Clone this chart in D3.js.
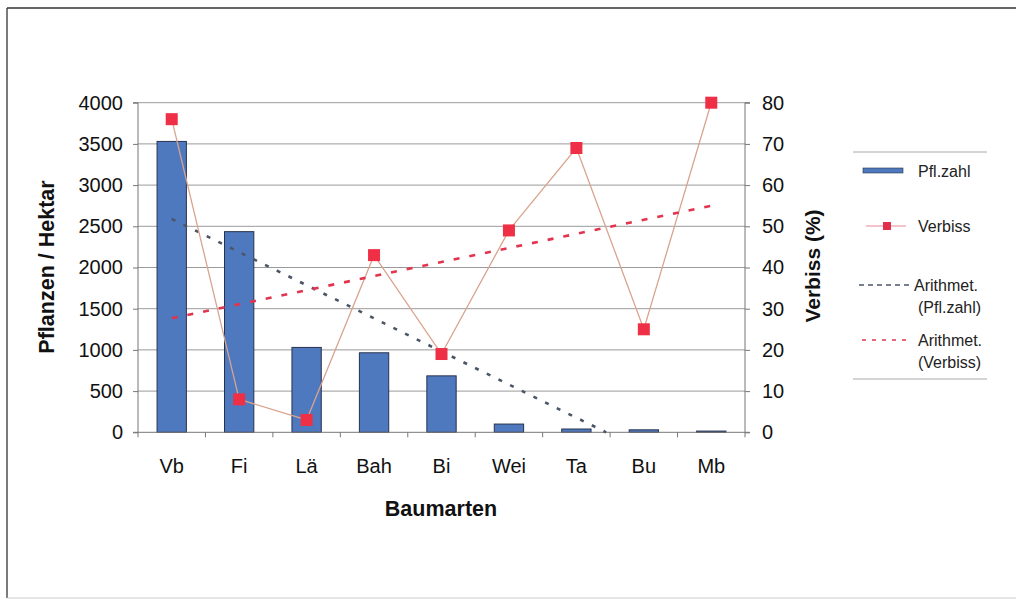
<!DOCTYPE html>
<html>
<head>
<meta charset="utf-8">
<script src="https://cdn.jsdelivr.net/npm/d3@7/dist/d3.min.js"></script>
<style>
  html, body { margin: 0; padding: 0; background: #fff; }
  svg { display: block; font-family: "Liberation Sans", Arial, sans-serif; }
</style>
</head>
<body>
<svg id="chart" width="1023" height="602"></svg>
<script>
// Tree species and their values
const categories = ["Vb", "Fi", "Lä", "Bah", "Bi", "Wei", "Ta", "Bu", "Mb"];
const plantsPerHa = [3530, 2435, 1030, 965, 685, 100, 40, 30, 15];
const browsingPct = [76, 8, 3, 43, 19, 49, 69, 25, 80];
const leftTicks = [0, 500, 1000, 1500, 2000, 2500, 3000, 3500, 4000];
const rightTicks = [0, 10, 20, 30, 40, 50, 60, 70, 80];

const svg = d3.select("#chart");
const plot = { left: 138, right: 745, top: 102.7, bottom: 432.3 };

// Outer frame
svg.append("line").attr("x1", 7).attr("x2", 1016).attr("y1", 8).attr("y2", 8)
  .attr("stroke", "#333").attr("stroke-width", 1.3);
svg.append("line").attr("x1", 7).attr("x2", 7).attr("y1", 8).attr("y2", 598)
  .attr("stroke", "#333").attr("stroke-width", 1.3);
svg.append("line").attr("x1", 7).attr("x2", 1016).attr("y1", 598).attr("y2", 598)
  .attr("stroke", "#ccc").attr("stroke-width", 1);

const x = d3.scaleBand().domain(categories).range([plot.left, plot.right]).paddingInner(0).paddingOuter(0);
const yL = d3.scaleLinear().domain([0, 4000]).range([plot.bottom, plot.top]);
const yR = d3.scaleLinear().domain([0, 80]).range([plot.bottom, plot.top]);
const cx = c => x(c) + x.bandwidth() / 2;

// Gridlines
svg.append("g").selectAll("line").data(leftTicks.slice(1)).join("line")
  .attr("x1", plot.left).attr("x2", plot.right)
  .attr("y1", d => yL(d)).attr("y2", d => yL(d))
  .attr("stroke", "#9a9a9a").attr("stroke-width", 1);

// Bars
const barW = x.bandwidth() / 2.3;
svg.append("g").selectAll("rect").data(categories).join("rect")
  .attr("x", (c) => cx(c) - barW / 2)
  .attr("width", barW)
  .attr("y", (c, i) => yL(plantsPerHa[i]))
  .attr("height", (c, i) => yL(0) - yL(plantsPerHa[i]))
  .attr("fill", "#4f79bf").attr("stroke", "#27324f").attr("stroke-width", 1);

// Axes
const fmt = d3.format("d");
const axL = d3.axisLeft(yL).tickValues(leftTicks).tickFormat(fmt).tickSize(5).tickPadding(10);
const gL = svg.append("g").attr("transform", `translate(${plot.left},0)`).call(axL);
const axR = d3.axisRight(yR).tickValues(rightTicks).tickFormat(fmt).tickSize(5).tickPadding(12);
const gR = svg.append("g").attr("transform", `translate(${plot.right},0)`).call(axR);
const axB = d3.axisBottom(x).tickSize(0).tickPadding(27);
const gB = svg.append("g").attr("transform", `translate(0,${plot.bottom})`).call(axB);
// category separator ticks
svg.append("g").selectAll("line").data(d3.range(categories.length + 1)).join("line")
  .attr("x1", i => plot.left + i * x.bandwidth()).attr("x2", i => plot.left + i * x.bandwidth())
  .attr("y1", plot.bottom).attr("y2", plot.bottom + 5)
  .attr("stroke", "#777");

[gL, gR, gB].forEach(g => {
  g.select(".domain").attr("stroke", "#777").attr("stroke-width", 1);
  g.selectAll(".tick line").attr("stroke", "#777");
  g.selectAll("text").attr("font-size", 20).attr("fill", "#111")
    .attr("font-family", "'Liberation Sans', Arial, sans-serif");
});
gB.select(".domain").attr("d", `M${plot.left},0H${plot.right}`);
gL.select(".domain").attr("d", `M-5,${plot.top}H0V${plot.bottom}H-5`);
gR.select(".domain").attr("d", `M5,${plot.top}H0V${plot.bottom}H5`);

// Linear trend (least squares over category index 1..n)
function trend(vals) {
  const n = vals.length, xs = d3.range(1, n + 1);
  const mx = d3.mean(xs), my = d3.mean(vals);
  const b = d3.sum(xs, (xi, i) => (xi - mx) * (vals[i] - my)) / d3.sum(xs, xi => (xi - mx) ** 2);
  const a = my - b * mx;
  return { a, b };
}

// Trend for plants per hectare, clipped at the axis minimum
const tP = trend(plantsPerHa);
const pxStep = x.bandwidth();
const x0 = cx(categories[0]);
let endIdx = categories.length;
if (tP.b < 0) endIdx = Math.min(categories.length, -tP.a / tP.b);
const xEnd = x0 + (endIdx - 1) * pxStep;
svg.append("line")
  .attr("x1", x0).attr("y1", yL(tP.a + tP.b * 1))
  .attr("x2", xEnd).attr("y2", yL(Math.max(0, tP.a + tP.b * endIdx)))
  .attr("stroke", "#4a5566").attr("stroke-width", 2.6)
  .attr("stroke-dasharray", "4,9");

// Browsing line
const line = d3.line().x((d, i) => cx(categories[i])).y(d => yR(d));
svg.append("path").datum(browsingPct).attr("d", line)
  .attr("fill", "none").attr("stroke", "#d9a48f").attr("stroke-width", 1.3);

// Trend for browsing
const tV = trend(browsingPct);
svg.append("line")
  .attr("x1", x0).attr("y1", yR(tV.a + tV.b * 1))
  .attr("x2", cx(categories[categories.length - 1])).attr("y2", yR(tV.a + tV.b * categories.length))
  .attr("stroke", "#e2344e").attr("stroke-width", 2.6)
  .attr("stroke-dasharray", "6,10");

// Browsing markers
svg.append("g").selectAll("rect").data(browsingPct).join("rect")
  .attr("x", (d, i) => cx(categories[i]) - 6)
  .attr("y", d => yR(d) - 6)
  .attr("width", 12).attr("height", 12)
  .attr("fill", "#ee2f45");

// Axis titles
svg.append("text").attr("transform", "translate(54,267) rotate(-90)")
  .attr("text-anchor", "middle").attr("font-size", 21.5).attr("font-weight", "bold")
  .attr("fill", "#111").text("Pflanzen / Hektar");
svg.append("text").attr("transform", "translate(820,266) rotate(-90)")
  .attr("text-anchor", "middle").attr("font-size", 21).attr("font-weight", "bold")
  .attr("fill", "#111").text("Verbiss (%)");
svg.append("text").attr("x", 441).attr("y", 516)
  .attr("text-anchor", "middle").attr("font-size", 21.5).attr("font-weight", "bold")
  .attr("fill", "#111").text("Baumarten");

// Legend
const lg = svg.append("g");
lg.append("line").attr("x1", 853).attr("x2", 987).attr("y1", 152).attr("y2", 152)
  .attr("stroke", "#aaa");
lg.append("line").attr("x1", 853).attr("x2", 987).attr("y1", 379).attr("y2", 379)
  .attr("stroke", "#aaa");
const lt = (tx, ty, s) => lg.append("text").attr("x", tx).attr("y", ty)
  .attr("font-size", 16).attr("fill", "#222").text(s);
lg.append("rect").attr("x", 863).attr("y", 168).attr("width", 40).attr("height", 5)
  .attr("fill", "#4f79bf").attr("stroke", "#27324f").attr("stroke-width", 0.6);
lt(918, 177, "Pfl.zahl");
lg.append("line").attr("x1", 866).attr("x2", 906).attr("y1", 226).attr("y2", 226)
  .attr("stroke", "#e88a95").attr("stroke-width", 1.2);
lg.append("rect").attr("x", 883).attr("y", 222).attr("width", 8).attr("height", 8)
  .attr("fill", "#e0304e");
lt(918, 232, "Verbiss");
lg.append("line").attr("x1", 859).attr("x2", 912).attr("y1", 285).attr("y2", 285)
  .attr("stroke", "#4a5566").attr("stroke-width", 1.4).attr("stroke-dasharray", "5,4");
lt(914, 291, "Arithmet.");
lt(918, 313, "(Pfl.zahl)");
lg.append("line").attr("x1", 862).attr("x2", 912).attr("y1", 340).attr("y2", 340)
  .attr("stroke", "#e2344e").attr("stroke-width", 1.6).attr("stroke-dasharray", "4,6");
lt(918, 346, "Arithmet.");
lt(918, 368, "(Verbiss)");
</script>
</body>
</html>
